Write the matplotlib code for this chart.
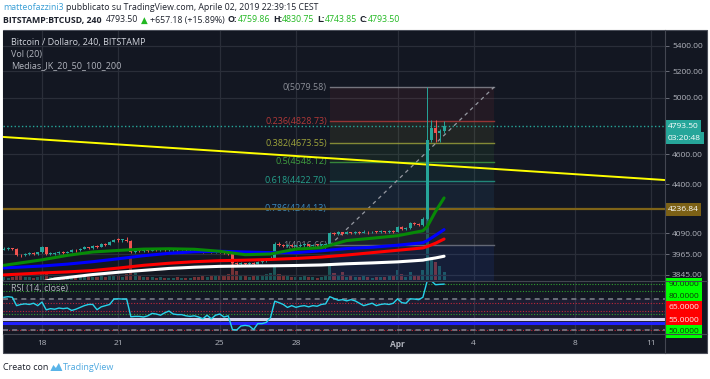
import numpy as np
import matplotlib
matplotlib.use('Agg')
import matplotlib.pyplot as plt
from matplotlib.patches import Rectangle, Polygon
from matplotlib.lines import Line2D
from matplotlib.ticker import NullLocator, NullFormatter

plt.rcParams['font.family'] = ['Open Sans', 'DejaVu Sans']

W, H = 710, 379

# BTCUSD 4h bars, Mar 16 12:00 -> Apr 2 20:00 (bar index 0..104)
first_open = 3990
closes = [3996, 4000, 3998, 3962, 3958, 3965, 3970, 3966, 3975,
          4005, 3965, 3968, 3972, 3978, 3974,
          3980, 3990, 3987, 3998, 4005, 4002,
          4012, 4008, 4025, 4020, 4038, 4052,
          4048, 4050, 4045, 3978, 3985, 3982,
          3990, 3986, 3993, 3988, 3992, 3987,
          3991, 3995, 3990, 3994, 3990, 3993,
          3988, 3984, 3980, 3985, 3978, 3982,
          3976, 3972, 3968, 3915, 3905, 3912,
          3908, 3915, 3910, 3920, 3925, 3932,
          3945, 4028, 4022, 4015, 4020, 4012,
          4012, 4018, 4023, 4016, 4021, 4018,
          4020, 4025, 4092, 4085, 4095, 4088,
          4096, 4090, 4098, 4093, 4100, 4095,
          4100, 4096, 4102, 4098, 4104, 4100,
          4128, 4118, 4122, 4152, 4145, 4140,
          4180, 4697, 4782, 4746, 4759.86, 4793.50]
highs = [4005, 4008, 4004, 4000, 3968, 3972, 3976, 3975, 3980,
         4012, 4010, 3975, 3978, 3985, 3982,
         3986, 3995, 3995, 4004, 4012, 4010,
         4018, 4018, 4030, 4030, 4045, 4058,
         4062, 4058, 4070, 4050, 3992, 3990,
         3996, 3994, 3998, 3996, 3997, 3995,
         3996, 4000, 3998, 3999, 3997, 3998,
         3996, 3992, 3988, 3990, 3988, 3988,
         3986, 3980, 3976, 3970, 3920, 3918,
         3916, 3920, 3918, 3925, 3930, 3938,
         3952, 4035, 4040, 4028, 4026, 4024,
         4020, 4024, 4030, 4026, 4027, 4025,
         4028, 4030, 4100, 4098, 4102, 4098,
         4104, 4100, 4105, 4102, 4108, 4104,
         4106, 4105, 4108, 4106, 4110, 4108,
         4135, 4132, 4128, 4160, 4158, 4150,
         4188, 5079.58, 4837, 4837, 4775, 4830.75]
lows = [3988, 3992, 3990, 3955, 3950, 3955, 3960, 3960, 3962,
        3970, 3958, 3960, 3962, 3966, 3968,
        3970, 3976, 3980, 3985, 3994, 3995,
        3998, 4000, 4005, 4012, 4018, 4035,
        4040, 4040, 4035, 3970, 3972, 3975,
        3978, 3980, 3982, 3982, 3984, 3982,
        3983, 3986, 3986, 3987, 3985, 3986,
        3984, 3978, 3974, 3976, 3972, 3974,
        3970, 3965, 3960, 3895, 3895, 3900,
        3900, 3904, 3902, 3906, 3915, 3920,
        3928, 3942, 4015, 4008, 4010, 4006,
        4006, 4008, 4012, 4010, 4012, 4012,
        4012, 4015, 4016.66, 4078, 4082, 4082,
        4085, 4084, 4086, 4088, 4090, 4088,
        4090, 4090, 4092, 4092, 4094, 4094,
        4095, 4112, 4112, 4118, 4138, 4132,
        4135, 4170, 4680, 4680, 4680, 4743.85]
volumes = [900, 700, 800, 1800, 1200, 800, 900, 700, 1000,
           2100, 1800, 900, 700, 800, 600,
           900, 1100, 700, 1200, 1300, 800,
           1000, 800, 1500, 900, 1400, 1600,
           1200, 1000, 1700, 6500, 2200, 1300,
           1000, 800, 900, 700, 800, 600,
           700, 600, 800, 500, 700, 600,
           800, 1000, 1200, 900, 1500, 1100,
           1300, 1600, 1800, 5500, 2600, 1400,
           1200, 1000, 1300, 1100, 1500, 1700,
           2000, 3800, 1800, 1400, 1100, 900,
           1000, 800, 1200, 900, 800, 700,
           1000, 1200, 5000, 2100, 1500, 2400,
           900, 1200, 1000, 800, 1100, 900,
           700, 900, 800, 1000, 1100, 1400,
           3000, 1800, 1000, 2400, 1200, 1500,
           3000, 21000, 7000, 5400, 4200, 2400]
rsi = [79, 79.5, 79, 72, 73, 73.5, 73, 74, 72,
       75, 68.5, 69.5, 69, 70, 69.5,
       70, 68, 69, 70.5, 72, 73,
       73, 68.6, 71, 72, 73, 77.5,
       77.7, 77.5, 77.5, 62.7, 63, 63,
       62.5, 63.5, 65.5, 65, 64, 66,
       67.5, 65, 64.5, 64.5, 63.5, 63,
       63.5, 62.5, 61, 64, 61, 64,
       65, 62.5, 63.5, 52, 51.6, 55,
       55.5, 55, 52, 57, 57, 58,
       62, 75.7, 74.5, 73, 70.5, 72,
       70.6, 71.5, 72, 71, 72, 71.5,
       73, 73.5, 79.5, 78, 76.5, 77,
       76, 77, 76, 74, 72, 73,
       74, 72, 73, 73.5, 73, 74,
       77.7, 74.5, 74, 77.7, 77.5, 77,
       79, 92.5, 92.7, 89.5, 89.8, 90]

# moving averages at these bars
ma_idx = [0, 9, 15, 21, 27, 33, 39, 45, 51, 57, 63, 69, 75, 81, 87, 93, 99, 100, 102, 104]
ma20 = [3900, 3932, 3958, 3978, 3987, 3995, 3997, 3994, 3982, 3962, 3966, 3995, 4003, 4046,
        4060, 4075, 4105, 4130, 4225, 4310]
ma50 = [3885, 3896, 3907, 3921, 3938, 3956, 3970, 3979, 3982, 3978, 3974, 3974, 3985, 3998,
        4006, 4018, 4033, 4045, 4078, 4112]
ma100 = [3845, 3856, 3862, 3870, 3884, 3900, 3912, 3921, 3927, 3930, 3934, 3940, 3948, 3960,
         3974, 3988, 4002, 4010, 4030, 4055]
ma200_idx = [9, 12, 15, 21, 27, 33, 39, 45, 51, 57, 63, 69, 75, 81, 87, 93, 99, 100, 102, 104]
ma200 = [3805, 3822, 3830, 3847, 3860, 3871, 3882, 3889, 3894, 3896, 3897, 3899, 3902, 3909,
         3914, 3920, 3930, 3935, 3943, 3953]

date_ticks = [9, 27, 51, 69, 93, 111, 135, 153]
date_labels = ['18', '21', '25', '28', 'Apr', '4', '8', '11']
price_ticks = [3845, 3965, 4090, 4400, 4600, 5000, 5200, 5400]

fib_ratios = ['0', '0.236', '0.382', '0.5', '0.618', '0.786', '1', '1.618']
fib_prices = [5079.58, 4828.73, 4673.55, 4548.12, 4422.70, 4244.13, 4016.66, 3359.78]
fib_colors = ['#8a8d96', '#b33939', '#9fa53b', '#3f9f3f', '#25a08c', '#3a8cc2', '#787b86', '#2962ff']
fib_span = [77, 115.8]

trend_idx = [-0.2, 156.2]
trend_prices = [4718, 4426]
support_price = 4236.84
last_price = 4793.50
countdown = '03:20:48'

rsi_levels = [90, 84, 73.8, 67.9, 65.3, 51.7]
rsi_level_colors = ['#2e9e2e', '#2e9e2e', '#c0283a', '#c0283a', '#2e9e2e', '#c0283a']
rsi_hlines = [61.1, 57.7]
rsi_hline_colors = ['#d6d3ee', '#2020ff']
rsi_band = [51.7, 77.2]
rsi_label_vals = [90, 80, 65, 55, 50]
rsi_label_bg = ['#00ff00', '#00ff00', '#ff0000', '#ff0000', '#00ff00']

BG = '#131722'
GRID = '#2a2e39'
TXT = '#b2b5be'
UP, DN = '#26a69a', '#ef5350'


def frac(x0, y0, x1, y1):
    return [x0 / W, 1 - y1 / H, (x1 - x0) / W, (y1 - y0) / H]


fig = plt.figure(figsize=(W / 100, H / 100), dpi=100)
fig.patch.set_facecolor('white')
fig.add_artist(Rectangle((3 / W, 1 - 353 / H), 704 / W, 323 / H, transform=fig.transFigure,
                         facecolor=BG, edgecolor='#4a4e59', lw=0.8, zorder=-1))

ax_vol = fig.add_axes(frac(3, 31, 665, 280))
ax = fig.add_axes(frac(3, 31, 665, 280), sharex=ax_vol)
ax_rsi = fig.add_axes(frac(3, 281, 665, 334), sharex=ax_vol)
ax.patch.set_visible(False)
for a in (ax_vol, ax_rsi):
    a.set_facecolor(BG)
for a in (ax_vol, ax, ax_rsi):
    for s in a.spines.values():
        s.set_visible(False)

x = np.arange(len(closes))
c = np.array(closes, dtype=float)
o = np.array([first_open] + closes[:-1], dtype=float)
up = c >= o
cols = np.where(up, UP, DN)

# volume
ax_vol.bar(x, volumes, width=0.72, color=cols, alpha=0.45, linewidth=0)
ax_vol.set_ylim(0, 75000)
ax_vol.tick_params(left=False, labelleft=False, bottom=False, labelbottom=False)
ax_vol.set_xlim(-0.21, 156.2)

# price pane
ax.set_yscale('log')
ax.set_ylim(3816, 5521)
ax.set_xticks(date_ticks)
ax.set_yticks(price_ticks)
ax.set_yticklabels([f'{p:.2f}' for p in price_ticks])
ax.yaxis.set_minor_locator(NullLocator())
ax.yaxis.set_minor_formatter(NullFormatter())
ax.yaxis.tick_right()
ax.tick_params(axis='y', length=3, width=0.6, color='#787b86', labelcolor=TXT, labelsize=6, pad=2)
ax.tick_params(axis='x', length=0, labelbottom=False)
ax.grid(True, color=GRID, lw=0.9)
ax.set_axisbelow(True)

# fib retracement
for k in range(len(fib_prices) - 1):
    ax.fill_between(fib_span, fib_prices[k], fib_prices[k + 1], color=fib_colors[k + 1],
                    alpha=0.1, lw=0, zorder=1)
for k in range(len(fib_prices)):
    ax.plot(fib_span, [fib_prices[k]] * 2, color=fib_colors[k], lw=1, alpha=0.8, zorder=1.5)
    ax.text(fib_span[0] - 0.7, fib_prices[k], f'{fib_ratios[k]}({fib_prices[k]:.2f})',
            ha='right', va='center', color=fib_colors[k], fontsize=6.5, zorder=1.6, clip_on=True)
ax.plot([fib_span[0], fib_span[1]], [fib_prices[6], fib_prices[0]], color='#9598a1', lw=0.9,
        ls=(0, (3, 3)), zorder=1.7)

ax.plot(trend_idx, trend_prices, color='#ffff00', lw=1.4, zorder=2)
ax.axhline(support_price, color='#7f6418', lw=1.6, zorder=2)
ax.axhline(last_price, color=UP, lw=1, ls=':', zorder=2)

# candles
ax.vlines(x, lows, highs, colors=cols, lw=0.7, zorder=3)
body_lo = np.minimum(o, c)
body_h = np.maximum(np.abs(c - o), 5)
ax.bar(x, body_h, bottom=body_lo, width=0.72, color=cols, linewidth=0, zorder=3)

# moving averages
ax.plot(ma200_idx, ma200, color='white', lw=2.2, zorder=4, solid_capstyle='round')
ax.plot(ma_idx, ma100, color='#ff0000', lw=2.2, zorder=4, solid_capstyle='round')
ax.plot(ma_idx, ma50, color='#0000ff', lw=2.2, zorder=4, solid_capstyle='round')
ax.plot(ma_idx, ma20, color='#078a07', lw=2.2, zorder=4, solid_capstyle='round')

ytr = ax.get_yaxis_transform()
box = dict(boxstyle='square,pad=0.35', ec='none')
ax.text(1.004, last_price, f'{last_price:.2f}', transform=ytr, ha='left', va='center',
        fontsize=6, color='white', bbox=dict(box, fc='#26a69a'), clip_on=False, zorder=10)
ax.annotate(countdown, xy=(1.004, last_price), xycoords=ytr, xytext=(0, -8.5),
            textcoords='offset points', ha='left', va='center', fontsize=6, color='white',
            bbox=dict(box, fc='#26a69a'), annotation_clip=False, zorder=10)
ax.text(1.004, support_price, f'{support_price:.2f}', transform=ytr, ha='left', va='center',
        fontsize=6, color='white', bbox=dict(box, fc='#7c6116'), clip_on=False, zorder=10)

ax.text(0.012, 0.952, 'Bitcoin / Dollaro, 240, BITSTAMP', transform=ax.transAxes,
        color='#d1d4dc', fontsize=6.5, va='center')
ax.text(0.012, 0.904, 'Vol (20)', transform=ax.transAxes, color=TXT, fontsize=6.5, va='center')
ax.text(0.012, 0.859, 'Medias_JK_20_50_100_200', transform=ax.transAxes, color=TXT,
        fontsize=6.5, va='center')

# RSI pane
ax_rsi.set_ylim(48.3, 92.6)
ax_rsi.axhspan(rsi_band[0], rsi_band[1], color='#7e57c2', alpha=0.1, lw=0)
for v, col in zip(rsi_levels, rsi_level_colors):
    ax_rsi.axhline(v, color=col, lw=0.8, ls=(0, (1, 1.5)))
for v in rsi_band:
    ax_rsi.axhline(v, color='#787b86', lw=1.2, ls=(0, (3, 2.5)))
for v, col in zip(rsi_hlines, rsi_hline_colors):
    ax_rsi.axhline(v, color=col, lw=2.2)
ax_rsi.plot(x, rsi, color='#26d3ea', lw=1.0, zorder=5)
ax_rsi.set_yticks([])
ax_rsi.grid(True, axis='x', color=GRID, lw=0.9)
ax_rsi.set_axisbelow(True)
ax_rsi.set_xticks(date_ticks)
ax_rsi.set_xticklabels(date_labels)
ax_rsi.tick_params(axis='x', length=0, pad=4, labelsize=6, labelcolor=TXT)
for t in ax_rsi.get_xticklabels():
    if t.get_text() == 'Apr':
        t.set_fontweight('bold')
ax_rsi.text(0.012, 0.85, 'RSI (14, close)', transform=ax_rsi.transAxes, color=TXT,
            fontsize=6.5, va='center')

rtr = ax_rsi.get_yaxis_transform()
label_shift = [0, 0, 4.6, 4.3, 0]
for v, bg, dy in zip(rsi_label_vals, rsi_label_bg, label_shift):
    fg = '#0b3d0b' if bg == '#00ff00' else '#ffe8e8'
    ax_rsi.annotate(f'{v:.4f}', xy=(1.0, v), xycoords=rtr, xytext=(2.5, dy),
                    textcoords='offset points', ha='left', va='center', fontsize=6, color=fg,
                    bbox=dict(boxstyle='square,pad=0.36', fc=bg, ec='none'),
                    annotation_clip=False, zorder=10)

# separators
for seg in [([665, 665], [30, 353]), ([3, 707], [280.5, 280.5]), ([3, 707], [334, 334])]:
    fig.add_artist(Line2D([p / W for p in seg[0]], [1 - p / H for p in seg[1]],
                          color='#434651', lw=0.8, zorder=6))

# header / footer
renderer = fig.canvas.get_renderer()


def chain(pieces, x_px, y_px, size):
    xx = x_px
    for txt, col, weight, gap in pieces:
        xx += gap
        t = fig.text(xx / W, 1 - y_px / H, txt, color=col, fontweight=weight, fontsize=size,
                     va='center', ha='left')
        xx = t.get_window_extent(renderer).x1
    return xx


DARK = '#1e222d'
GREEN = '#22b822'
chain([('matteofazzini3', '#3a9fd6', 'normal', 0),
       ('pubblicato su TradingView.com, Aprile 02, 2019 22:39:15 CEST', DARK, 'normal', 2.5)],
      3, 8, 6.3)
chain([('BITSTAMP:BTCUSD, 240', DARK, 'bold', 0), ('4793.50', DARK, 'normal', 4),
       ('▲', GREEN, 'normal', 3), ('+657.18 (+15.89%)', DARK, 'normal', 2.5),
       ('O:', DARK, 'bold', 3), ('4759.86', GREEN, 'normal', 0),
       ('H:', DARK, 'bold', 3), ('4830.75', GREEN, 'normal', 0),
       ('L:', DARK, 'bold', 3), ('4743.85', GREEN, 'normal', 0),
       ('C:', DARK, 'bold', 3), ('4793.50', GREEN, 'normal', 0)], 3, 20, 6.3)

xe = chain([('Creato con', DARK, 'normal', 0)], 3, 367, 6.5)
lx = xe + 2
logo = [(lx, 371), (lx + 3, 365), (lx + 5.5, 368), (lx + 8.5, 363), (lx + 12, 371)]
fig.add_artist(Polygon([(px / W, 1 - py / H) for px, py in logo], closed=True,
                       transform=fig.transFigure, fc='#5ab4e8', ec='none'))
chain([('TradingView', '#4fa9e0', 'normal', 0)], lx + 13, 367, 6.5)

fig.savefig('out.png', dpi=100, facecolor='white')
